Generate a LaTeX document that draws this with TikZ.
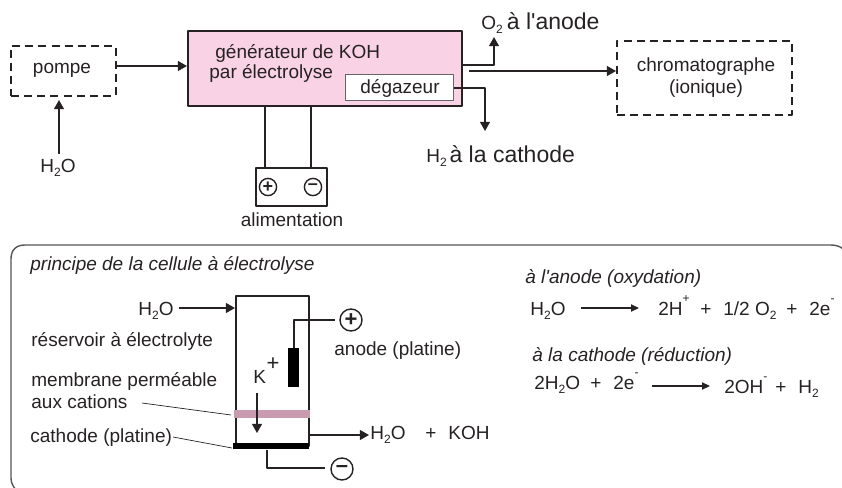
\documentclass[tikz,border=0pt]{standalone}
\usepackage{fontspec}
\setmainfont{Liberation Sans}[Ligatures=TeXOff]
\usepackage{xcolor}
\usetikzlibrary{arrows.meta}
\definecolor{inkdark}{RGB}{38,34,35}
\definecolor{panelgray}{RGB}{85,85,85}
\definecolor{genpink}{RGB}{249,211,229}
\definecolor{membranepink}{RGB}{201,155,176}
\newcommand{\ssub}{\raisebox{-2.2pt}{\fontsize{6}{6}\selectfont 2}}
\newcommand{\ssup}[1]{\raisebox{6.5pt}{\fontsize{6}{6}\selectfont #1}}
\tikzset{
  every node/.style={text=inkdark,inner sep=0pt},
  txt/.style={font=\fontsize{9.5}{11}\selectfont,anchor=base west},
  txtmid/.style={font=\fontsize{9.5}{11}\selectfont,anchor=base},
  txtbig/.style={font=\fontsize{11.5}{13}\selectfont,anchor=base west},
  txtit/.style={font=\fontsize{9.5}{11}\selectfont\itshape,anchor=base west},
  dashbox/.style={draw=inkdark,line width=.75pt,dash pattern=on 4pt off 2.6pt,anchor=north west},
  solidbox/.style={draw=inkdark,line width=.75pt,anchor=north west},
  wire/.style={draw=inkdark,line width=.75pt},
  flow/.style={wire,-{Triangle[length=4.6pt,width=5pt]}},
  eqflow/.style={draw=inkdark,line width=.6pt,-{Triangle[length=4pt,width=3.6pt]}},
  leader/.style={draw=inkdark,line width=.35pt},
  pole/.style={circle,draw=inkdark,line width=.7pt,inner sep=0pt,font=\fontsize{9}{9}\selectfont\bfseries},
}
\begin{document}
\begin{tikzpicture}[x=.5pt,y=-.5pt,line join=round]
\useasboundingbox (0,0) rectangle (842,488);
% schema du haut
\node[dashbox,minimum width=52.5pt,minimum height=25pt] (pompebox) at (10,45) {};
\node[txtmid] (pompe) at (62,73) {pompe};
\node[txtmid] (eauin) at (58,172) {H\ssub O};
\coordinate (pompebas) at (59,100);
\coordinate (eauhaut) at (59,154);
\draw[flow] (eauhaut) -- (pompebas);

\node[solidbox,fill=genpink,minimum width=137pt,minimum height=37.5pt] (gen) at (187,30) {};
\node[txt] (gena) at (215,58) {générateur de KOH};
\node[txt] (genb) at (209,78) {par électrolyse};
\node[draw=inkdark!70,line width=.4pt,fill=white,anchor=north west,minimum width=54pt,minimum height=13pt] (degaz) at (345,74) {};
\node[txtmid] (degaztxt) at (400,93) {dégazeur};
\coordinate (genin) at (187,66);
\draw[flow] (pompebox.east |- genin) -- (genin);

\node[solidbox,minimum width=35.5pt,minimum height=19pt] (alim) at (255,167) {};
\node[pole,minimum size=8.6pt] (pluslow) at (268,187) {+};
\node[pole,minimum size=8.6pt] (minuslow) at (313,187) {–};
\node[txtmid] (alimtxt) at (292,226) {alimentation};
\coordinate (fila) at (265,107);
\coordinate (filb) at (311,107);
\draw[wire] (fila) -- (fila |- alim.north);
\draw[wire] (filb) -- (filb |- alim.north);

\node[txtbig] (otwo) at (481,29) {{\fontsize{9.5}{11}\selectfont O\ssub}\hspace{-1.2pt} à l'anode};
\node[txtbig] (htwo) at (426,162) {{\fontsize{9.5}{11}\selectfont H\ssub}\hspace{-1.8pt} à la cathode};
\coordinate (oa) at (463,65);
\coordinate (ob) at (494,37);
\coordinate (ha) at (454,88);
\coordinate (hb) at (485,131);
\draw[flow] (oa) -| (ob);
\draw[flow] (ha) -| (hb);

\node[dashbox,minimum width=87.5pt,minimum height=37pt] (chrombox) at (616,40) {};
\node[txtmid] (chroma) at (706,71) {chromatographe};
\node[txtmid] (chromb) at (706,93) {(ionique)};
\coordinate (sortie) at (469,71);
\draw[flow] (sortie) -- (sortie -| chrombox.west);

% cadre du bas
\draw[panelgray,line width=.7pt] (846,252) .. controls (842,247) and (838,245) .. (830,245) -- (25,245) .. controls (16,245) and (11,250) .. (11,259) -- (11,478) .. controls (11,483) and (13,486) .. (16,490);
\node[txtit] (princ) at (30,270) {principe de la cellule à électrolyse};

% cellule
\node[draw=inkdark,line width=.8pt,anchor=north west,minimum width=36.5pt,minimum height=75pt] (cell) at (235,295) {};
\node[fill=membranepink,anchor=north west,minimum width=38pt,minimum height=4pt] (membr) at (234,410) {};
\node[fill=black,anchor=north west,minimum width=38pt,minimum height=3pt] (cathode) at (233,443) {};
\node[fill=black,anchor=north west,minimum width=5.5pt,minimum height=19.5pt] (anode) at (288,348) {};
\node[pole,minimum size=11pt,font=\fontsize{11}{11}\selectfont\bfseries] (plushigh) at (351,320) {+};
\node[pole,minimum size=11pt,font=\fontsize{11}{11}\selectfont\bfseries] (minushigh) at (342,469) {–};
\coordinate (fanode) at (335,320);
\coordinate (fcath) at (325,468);
\draw[wire] (anode.north) |- (fanode);
\draw[wire] (cathode.south -| 267,0) |- (fcath);

\node[txt] (eaucell) at (138,315) {H\ssub O};
\coordinate (eaua) at (179,308);
\draw[flow] (eaua) -- (eaua -| cell.west);
\node[txt] (reserv) at (31,346) {réservoir à électrolyte};
\node[txt] (membra) at (31,386) {membrane perméable};
\node[txt] (membrb) at (31,408) {aux cations};
\node[txt] (cathtxt) at (30,442) {cathode (platine)};
\node[txt] (anotxt) at (334,355) {anode (platine)};
\coordinate (lma) at (142,403);
\coordinate (lmb) at (231,415);
\coordinate (lca) at (173,437);
\coordinate (lcb) at (232,448);
\draw[leader] (lma) -- (lmb);
\draw[leader] (lca) -- (lcb);

\node[txt] (kion) at (253,383) {K};
\node[font=\fontsize{11}{11}\selectfont] (kplus) at (273,364) {+};
\coordinate (kha) at (257,393);
\coordinate (kba) at (257,433);
\draw[flow] (kha) -- (kba);

\coordinate (exita) at (309,435);
\coordinate (exitb) at (369,435);
\draw[flow] (exita) -- (exitb);
\node[txt] (exitw) at (370,439) {H\ssub O};
\node[txtmid] (exitp) at (431,439) {+};
\node[txt] (exitk) at (448,439) {KOH};

% reactions
\node[txtit] (anotit) at (525,283) {à l'anode (oxydation)};
\node[txt] (anoa) at (530,315) {H\ssub O};
\coordinate (eqaa) at (581,308);
\coordinate (eqab) at (639,308);
\draw[eqflow] (eqaa) -- (eqab);
\node[txt] (anob) at (658,315) {2H\ssup{+}};
\node[txtmid] (anoc) at (706,315) {+};
\node[txt] (anod) at (723,315) {1/2 O\ssub};
\node[txtmid] (anoe) at (792,315) {+};
\node[txt] (anof) at (809,315) {2e\ssup{-}};

\node[txtit] (cathtit) at (532,361) {à la cathode (réduction)};
\node[txt] (catha) at (534,389) {2H\ssub O};
\node[txtmid] (cathb) at (596,389) {+};
\node[txt] (cathc) at (613,389) {2e\ssup{-}};
\coordinate (eqba) at (652,386);
\coordinate (eqbb) at (710,386);
\draw[eqflow] (eqba) -- (eqbb);
\node[txt] (cathd) at (724,393) {2OH\ssup{-}};
\node[txtmid] (cathe) at (781,393) {+};
\node[txt] (cathf) at (798,393) {H\ssub};
\end{tikzpicture}
\end{document}
